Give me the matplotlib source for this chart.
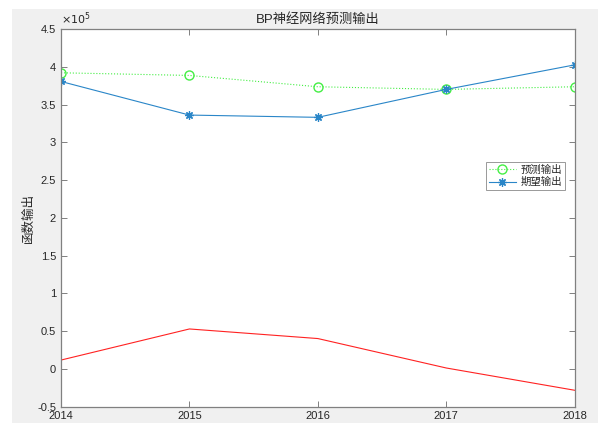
import matplotlib
matplotlib.use("Agg")
import matplotlib.pyplot as plt
from matplotlib.patches import Rectangle
from matplotlib.ticker import FuncFormatter

plt.rcParams['font.family'] = ['Liberation Sans', 'Noto Sans CJK SC', 'DejaVu Sans']

years = [2014, 2015, 2016, 2017, 2018]
predicted = [392000, 388500, 373500, 370000, 373500]   # 预测输出
expected = [380500, 336000, 333000, 370000, 402500]    # 期望输出
error = [11500, 52700, 40000, 1000, -28500]
y_ticks = [-0.5, 0, 0.5, 1, 1.5, 2, 2.5, 3, 3.5, 4, 4.5]

fig = plt.figure(figsize=(5.98, 4.23), dpi=100, facecolor='white')
fig.patches.append(Rectangle((12 / 598, 0), 1, (423 - 9) / 423,
                             transform=fig.transFigure, facecolor='#f0f0f0',
                             edgecolor='none', zorder=-10))

ax = fig.add_axes([61 / 598, (423 - 406.5) / 423, (574.7 - 61) / 598, (406.5 - 29) / 423])
ax.set_facecolor('white')

ax.plot(years, predicted, linestyle=':', color='#44ee44', marker='o',
        markersize=6.5, markerfacecolor='none', markeredgewidth=1.0,
        linewidth=0.8, label='预测输出')
ax.plot(years, expected, linestyle='-', color='#2a86c8', marker=(8, 2, 0),
        markersize=6, markeredgewidth=0.9, linewidth=0.8, label='期望输出')
ax.plot(years, error, linestyle='-', color='#ff2222', linewidth=0.8)

ax.set_xlim(2014, 2018)
ax.set_xticks(years)
ax.set_ylim(-0.5e5, 4.5e5)
ax.set_yticks([v * 1e5 for v in y_ticks])
ax.yaxis.set_major_formatter(FuncFormatter(lambda v, p: '%g' % (v / 1e5)))

for s in ax.spines.values():
    s.set_color('#808080')
    s.set_linewidth(0.9)
ax.tick_params(direction='in', top=True, right=True, length=4, width=0.7,
               colors='#808080', labelcolor='#262626', labelsize=8)

ax.text(0.0, 1.004, r'$\times10^{5}$', transform=ax.transAxes, fontsize=8,
        color='#262626', ha='left', va='bottom')
ax.set_title('BP神经网络预测输出', fontsize=9.5, color='#262626', pad=4)
ax.set_ylabel('函数输出', fontsize=9, color='#262626', labelpad=2)

leg = ax.legend(loc='upper left', bbox_to_anchor=(0.827, 0.648), fontsize=7.5,
                frameon=True, fancybox=False, borderpad=0.3, labelspacing=0.2,
                handlelength=2.6, handletextpad=0.4, borderaxespad=0)
leg.get_frame().set_edgecolor('#808080')
leg.get_frame().set_linewidth(0.7)
for t in leg.get_texts():
    t.set_color('#262626')

fig.savefig('out.png', dpi=100, facecolor=fig.get_facecolor())
